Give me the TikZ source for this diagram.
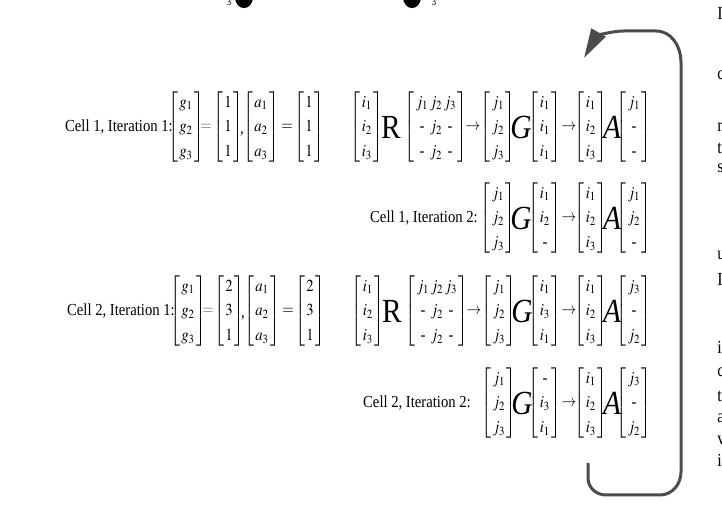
\documentclass[tikz,border=0pt]{standalone}
\usepackage{amsmath}
\usepackage{mathptmx}
\usepackage{fontspec}
\setmainfont{Liberation Serif}
\usetikzlibrary{arrows.meta}

\renewcommand{\arraystretch}{1.25}
%% column vector and the R matrix
\newcommand{\cv}[3]{\ensuremath{\left[\begin{array}{@{\hspace{1pt}}c@{\hspace{1pt}}}#1\\#2\\#3\end{array}\right]}}
\newcommand{\nil}{\text{-}}
\newcommand{\rmat}{\ensuremath{\left[\begin{array}{@{\,}c@{\,}c@{\,}c@{\,}}
  j_1&j_2&j_3\\ \nil&j_2&\nil\\ \nil&j_2&\nil\end{array}\right]}}
\newsavebox{\stbox}

\begin{document}
\begin{tikzpicture}[x=0.75pt, y=-0.75pt, font=\fontsize{11}{13}\selectfont, >=Stealth,
  every node/.append style={
    execute at begin node={\setbox\stbox=\hbox\bgroup},
    execute at end node={\egroup\scalebox{1}[1.15]{\usebox{\stbox}}}},
  lbl/.style={anchor=east, inner sep=0pt},
  vec/.style={inner sep=0pt},
  sym/.style={inner sep=0pt},
  faint/.style={sym, black!55},
  big/.style={inner sep=0pt, font=\fontsize{22}{24}\selectfont},
  frag/.style={anchor=west, inner sep=0pt, font=\fontsize{12}{14}\selectfont},
  loop/.style={line width=2.25pt, black!70}]
  \useasboundingbox (0,0) rectangle (722,509);

  %% cut-off pieces of the figure above
  \fill (244,-3) ellipse [x radius=6.8pt, y radius=8.3pt];
  \fill (412,-3) ellipse [x radius=6.8pt, y radius=8.3pt];
  \node[sym, font=\scriptsize] (topa) at (229,2) {3};
  \node[sym, font=\scriptsize] (topb) at (434,2) {3};

  %% Cell 1, Iteration 1
  \node[lbl] (c1i1) at (173,127) {Cell 1, Iteration 1:};
  \node[vec] (ga) at (186,127) {\cv{g_1}{g_2}{g_3}};
  \node[faint] (eqa) at (206,127) {$=$};
  \node[vec] (na) at (228,127) {\cv{1}{1}{1}};
  \node[sym] (cma) at (242,134) {,};
  \node[vec] (aa) at (261,127) {\cv{a_1}{a_2}{a_3}};
  \node[sym] (eqb) at (287,127) {$=$};
  \node[vec] (ma) at (309,127) {\cv{1}{1}{1}};
  \node[vec] (ia) at (367,127) {\cv{i_1}{i_2}{i_3}};
  \node[big] (Ra) at (391,127) {R};
  \node[vec] (rma) at (436,127) {\rmat};
  \node[sym] (toa) at (473,127) {$\rightarrow$};
  \node[vec] (ja) at (498,127) {\cv{j_1}{j_2}{j_3}};
  \node[big] (Ga) at (521,127) {\itshape G};
  \node[vec] (gia) at (545,127) {\cv{i_1}{i_1}{i_1}};
  \node[sym] (tob) at (569,127) {$\rightarrow$};
  \node[vec] (oia) at (591,127) {\cv{i_1}{i_2}{i_3}};
  \node[big] (Aa) at (612,127) {\itshape A};
  \node[vec] (oja) at (634,127) {\cv{j_1}{\nil}{\nil}};

  %% Cell 1, Iteration 2
  \node[lbl] (c1i2) at (478,218) {Cell 1, Iteration 2:};
  \node[vec] (jb) at (498,218) {\cv{j_1}{j_2}{j_3}};
  \node[big] (Gb) at (521,218) {\itshape G};
  \node[vec] (gib) at (545,218) {\cv{i_1}{i_2}{\nil}};
  \node[sym] (toc) at (569,218) {$\rightarrow$};
  \node[vec] (oib) at (591,218) {\cv{i_1}{i_2}{i_3}};
  \node[big] (Ab) at (612,218) {\itshape A};
  \node[vec] (ojb) at (634,218) {\cv{j_1}{j_2}{\nil}};

  %% Cell 2, Iteration 1
  \node[lbl] (c2i1) at (175,311) {Cell 2, Iteration 1:};
  \node[vec] (gc) at (188,311) {\cv{g_1}{g_2}{g_3}};
  \node[faint] (eqc) at (208,311) {$=$};
  \node[vec] (nc) at (229,311) {\cv{2}{3}{1}};
  \node[sym] (cmc) at (243,318) {,};
  \node[vec] (ac) at (262,311) {\cv{a_1}{a_2}{a_3}};
  \node[sym] (eqd) at (288,311) {$=$};
  \node[vec] (mc) at (310,311) {\cv{2}{3}{1}};
  \node[vec] (ic) at (368,311) {\cv{i_1}{i_2}{i_3}};
  \node[big] (Rc) at (392,311) {R};
  \node[vec] (rmc) at (437,311) {\rmat};
  \node[sym] (tod) at (474,311) {$\rightarrow$};
  \node[vec] (jc) at (499,311) {\cv{j_1}{j_2}{j_3}};
  \node[big] (Gc) at (522,311) {\itshape G};
  \node[vec] (gic) at (545,311) {\cv{i_1}{i_3}{i_1}};
  \node[sym] (toe) at (569,311) {$\rightarrow$};
  \node[vec] (oic) at (591,311) {\cv{i_1}{i_2}{i_3}};
  \node[big] (Ac) at (612,311) {\itshape A};
  \node[vec] (ojc) at (634,311) {\cv{j_3}{\nil}{j_2}};

  %% Cell 2, Iteration 2
  \node[lbl] (c2i2) at (471,403) {Cell 2, Iteration 2:};
  \node[vec] (jd) at (499,403) {\cv{j_1}{j_2}{j_3}};
  \node[big] (Gd) at (522,403) {\itshape G};
  \node[vec] (gid) at (545,403) {\cv{\nil}{i_3}{i_1}};
  \node[sym] (tof) at (569,403) {$\rightarrow$};
  \node[vec] (oid) at (591,403) {\cv{i_1}{i_2}{i_3}};
  \node[big] (Ad) at (612,403) {\itshape A};
  \node[vec] (ojd) at (634,403) {\cv{j_3}{\nil}{j_2}};

  %% loop back to the first iteration
  \coordinate (loopS) at (588,463);
  \coordinate (loopE) at (584,58);
  \draw[loop, -{Triangle[length=22pt, width=12pt]}] (loopS) -- (588,478)
    to[out=-90, in=180] (606,495) -- (660,495)
    to[out=0, in=-90] (681,472) -- (681,62)
    to[out=90, in=0] (656,31) -- (624,31)
    .. controls (610,31) and (596,37) .. (loopE);

  %% cut-off letters of the text column on the right
  \foreach \y/\t in {13/I,75/c,127/r,148/t,168/s,255/u,279/I,
                     347/i,372/c,396/t,418/a,440/v,460/i}{
    \node[frag] (edge\y) at (717,\y) {\t};
  }
\end{tikzpicture}
\end{document}
